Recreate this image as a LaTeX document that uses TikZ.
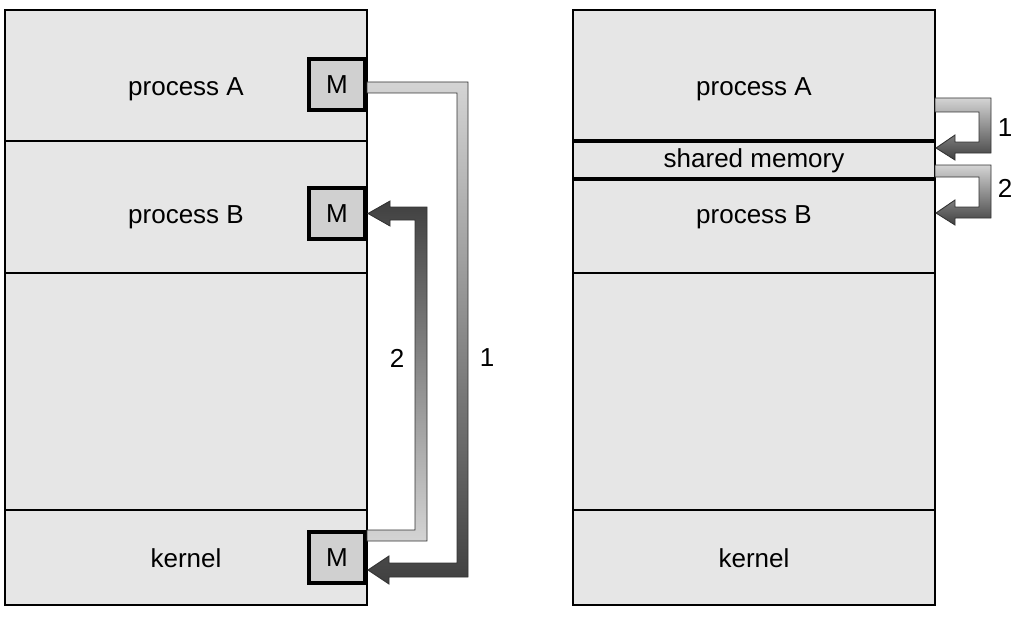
\documentclass[tikz,border=0pt]{standalone}
\usepackage{fontspec}
\setmainfont{Liberation Sans}
\usetikzlibrary{calc}
\definecolor{memfill}{HTML}{E6E6E6}
\definecolor{mfill}{HTML}{D0D0D0}
\definecolor{lightarr}{HTML}{D4D4D4}
\definecolor{darkarr}{HTML}{404040}
\tikzset{
  memcol/.style={draw, fill=memfill, line width=0.9pt},
  divide/.style={line width=0.9pt},
  thickdiv/.style={line width=2.8pt},
  lbl/.style={font=\fontsize{14.8}{17}\selectfont},
  word/.style={lbl, anchor=base},
  mbox/.style={lbl, draw, fill=mfill, line width=2.3pt, minimum width=1.12cm, minimum height=1.02cm, inner sep=0pt},
  downarrow/.style={draw=black!80, line width=0.5pt, top color=lightarr, bottom color=darkarr},
  uparrow/.style={draw=black!80, line width=0.5pt, top color=darkarr, bottom color=lightarr},
}
\begin{document}
\begin{tikzpicture}[x=0.02cm, y=-0.02cm]
\useasboundingbox (0,0) rectangle (1024,625);
% message passing
\draw[memcol] (5,10) rectangle (367,605);
\foreach \y in {141,273,510}
  \draw[divide] (5,\y) -- (367,\y);
\node[word] (pA) at (186,95) {process A};
\node[word] (pB) at (186,223) {process B};
\node[word] (kern) at (186,567) {kernel};
\node[mbox] (mA) at (337,84.5) {M};
\node[mbox] (mB) at (337,213.5) {M};
\node[mbox] (mK) at (337,557.5) {M};
\shade[downarrow] ($(mA.east)+(0,-2.5)$) -- ++(101,0) -- ++(0,495) -- ++(-79,0)
  -- ++(0,7) -- ++(-21,-14) -- ++(21,-14) -- ++(0,7) -- ++(68,0) -- ++(0,-470)
  -- ++(-90,0) -- cycle;
\shade[uparrow] ($(mK.east)+(0,-16.5)$) -- ++(60,0) -- ++(0,-334) -- ++(-37,0)
  -- ++(0,-6) -- ++(-22,12.5) -- ++(22,12.5) -- ++(0,-6) -- ++(25,0) -- ++(0,310)
  -- ++(-48,0) -- cycle;
\node[lbl] (l2) at (397,358) {2};
\node[lbl] (l1) at (487,358) {1};
% shared memory
\draw[memcol] (573,10) rectangle (935,605);
\draw[thickdiv] (573,141) -- (935,141);
\draw[thickdiv] (573,179) -- (935,179);
\foreach \y in {273,510}
  \draw[divide] (573,\y) -- (935,\y);
\node[word] (qA) at (754,95) {process A};
\node[word] (sm) at (754,167) {shared memory};
\node[word] (qB) at (754,223) {process B};
\node[word] (qK) at (754,567) {kernel};
\coordinate (w1) at (935,98);
\coordinate (w2) at (935,165);
\shade[downarrow] (w1) -- ++(56,0) -- ++(0,55) -- ++(-36,0) -- ++(0,7) -- ++(-19,-12)
  -- ++(19,-13) -- ++(0,7) -- ++(24,0) -- ++(0,-30) -- ++(-44,0) -- cycle;
\shade[downarrow] (w2) -- ++(56,0) -- ++(0,53) -- ++(-36,0) -- ++(0,7) -- ++(-19,-12)
  -- ++(19,-13) -- ++(0,7) -- ++(24,0) -- ++(0,-30) -- ++(-44,0) -- cycle;
\node[lbl] (r1) at (1005,128) {1};
\node[lbl] (r2) at (1005,188) {2};
\end{tikzpicture}
\end{document}
